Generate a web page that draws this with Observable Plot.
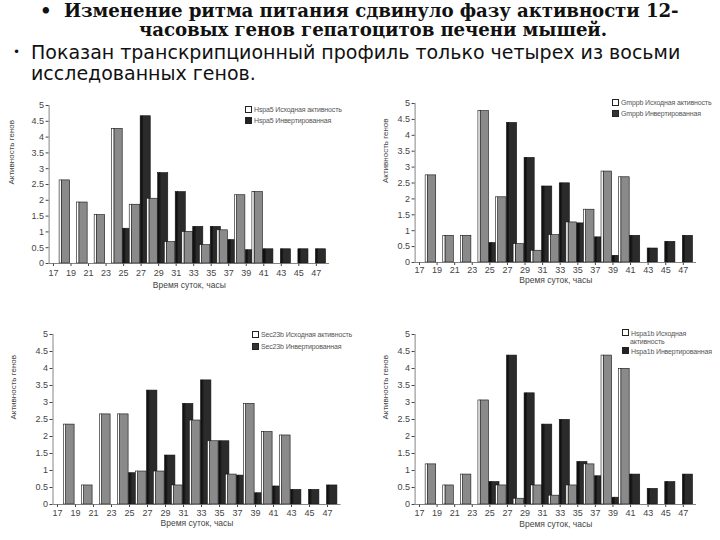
<!DOCTYPE html>
<html><head><meta charset="utf-8">
<script src="https://cdn.jsdelivr.net/npm/d3@7"></script>
<script src="https://cdn.jsdelivr.net/npm/@observablehq/plot@0.6"></script>
<style>
body{margin:0;background:#fff;width:720px;height:540px;position:relative;overflow:hidden;font-family:"Liberation Sans",Arial,sans-serif}
.abs{position:absolute;white-space:nowrap}
.h1{font-family:"DejaVu Serif",serif;font-weight:bold;font-size:18.2px;line-height:18px;color:#111;letter-spacing:-0.1px}
.h2{font-family:"DejaVu Sans",sans-serif;font-size:19px;line-height:21px;color:#111}
.leg{font-size:7px;color:#555;line-height:11px;letter-spacing:-0.15px}
.sq{display:inline-block;width:5px;height:5px;border:1px solid #222;margin-right:2px;vertical-align:-0.5px}
</style></head><body>
<div class="abs h1" style="left:40px;top:2px">•&nbsp; Изменение ритма питания сдвинуло фазу активности 12-</div>
<div class="abs h1" style="left:373px;top:21px;transform:translateX(-50%)">часовых генов гепатоцитов печени мышей.</div>
<div class="abs h2" style="left:13px;top:42px;font-size:12px">•</div>
<div class="abs h2" style="left:31px;top:42px">Показан транскрипционный профиль только четырех из восьми</div>
<div class="abs h2" style="left:31px;top:63px">исследованных генов.</div>
<div id="charts"></div>
<script>
// ---- data ----
const hoursOrig = [18, 20, 22, 24, 26, 28, 30, 32, 34, 36, 38, 40, 42];
const hoursInv = [25, 27, 29, 31, 33, 35, 37, 39, 41, 43, 45, 47];
const xTicks = [17, 19, 21, 23, 25, 27, 29, 31, 33, 35, 37, 39, 41, 43, 45, 47];
const yTicks = [0, 0.5, 1, 1.5, 2, 2.5, 3, 3.5, 4, 4.5, 5];
const genes = ["Hspa5", "Gmppb", "Sec23b", "Hspa1b"];
const seriesNames = ["Исходная активность", "Инвертированная"];
const xTitle = "Время суток, часы";
const yTitle = "Активность генов";

const orig1 = [2.63, 1.93, 1.53, 4.26, 1.86, 2.05, 0.68, 1.0, 0.58, 1.05, 2.16, 2.26];
const inv1  = [1.1, 4.66, 2.86, 2.26, 1.16, 1.16, 0.74, 0.42, 0.45, 0.45, 0.45, 0.45];
const orig2 = [2.74, 0.84, 0.84, 4.76, 2.05, 0.58, 0.37, 0.86, 1.26, 1.66, 2.86, 2.68];
const inv2  = [0.61, 4.39, 3.29, 2.39, 2.49, 1.23, 0.79, 0.21, 0.84, 0.44, 0.65, 0.84];
const orig3 = [2.35, 0.56, 2.65, 2.65, 0.97, 0.97, 0.56, 2.47, 1.86, 0.88, 2.96, 2.13, 2.03];
const inv3  = [0.92, 3.35, 1.44, 2.96, 3.65, 1.86, 0.85, 0.33, 0.53, 0.43, 0.43, 0.56];
const orig4 = [1.18, 0.56, 0.88, 3.06, 0.56, 0.17, 0.56, 0.26, 0.56, 1.18, 4.38, 3.99];
const inv4  = [0.66, 4.38, 3.27, 2.35, 2.49, 1.25, 0.83, 0.2, 0.88, 0.46, 0.66, 0.88];

const panels = [
  {gene: genes[0], orig: orig1, inv: inv1, left: 0, top: 95, width: 345, height: 200, ml: 48.6, mr: 16, mt: 10, mb: 32, ytx: -38, tickPad: 3, xtDy: 24,
   leg: {left: 245, top: 104, lh: 11, lines: [[0, "white"], [1, "#222"]]}},
  {gene: genes[1], orig: orig2, inv: inv2, left: 360, top: 93, width: 360, height: 200, ml: 54.6, mr: 24, mt: 10, mb: 31, ytx: -30, tickPad: 1, xtDy: 20,
   leg: {left: 612, top: 97, lh: 11, lines: [[0, "white"], [1, "#333"]]}},
  {gene: genes[2], orig: orig3, inv: inv3, left: 0, top: 320, width: 360, height: 220, ml: 52.5, mr: 19.5, mt: 14, mb: 36, ytx: -40, tickPad: 2, xtDy: 21,
   leg: {left: 252, top: 329, lh: 12, lines: [[0, "white"], [1, "#333"]]}},
  {gene: genes[3], orig: orig4, inv: inv4, left: 360, top: 320, width: 360, height: 220, ml: 54.6, mr: 24, mt: 14, mb: 36, ytx: -30, tickPad: 2, xtDy: 22,
   leg: {left: 622, top: 329, lh: 8.5, wrap: true, lines: [[0, "white"], [1, "#222"]]}}
];

const xDomain = [16.5, 48.5];
const container = document.getElementById("charts");

for (const p of panels) {
  const bars = [
    ...p.orig.map((v, i) => ({hour: hoursOrig[i], value: v, s: 0})),
    ...p.inv.map((v, i) => ({hour: hoursInv[i], value: v, s: 1}))
  ].sort((a, b) => a.hour - b.hour || a.s - b.s);
  const pieces = bars.flatMap(d => [{...d, part: "side"}, {...d, part: "front"}]);
  const x1 = d => d.s === 0 ? (d.part === "front" ? d.hour - 0.3 : d.hour - 0.05) : (d.part === "front" ? d.hour - 0.05 : d.hour + 0.2);
  const x2 = d => d.s === 0 ? (d.part === "front" ? d.hour - 0.05 : d.hour + 0.9) : (d.part === "front" ? d.hour + 0.2 : d.hour + 1.1);
  const fill = d => d.s === 0 ? (d.part === "front" ? "#ffffff" : "#8a8a8a") : (d.part === "front" ? "#111" : "#2b2b2b");

  const chart = Plot.plot({
    width: p.width, height: p.height,
    marginLeft: p.ml, marginRight: p.mr, marginTop: p.mt, marginBottom: p.mb,
    style: {fontFamily: "Liberation Sans, Arial, sans-serif", fontSize: "9px", color: "#444", background: "transparent"},
    x: {domain: xDomain, ticks: xTicks, tickFormat: d => String(d), tickSize: 3, tickPadding: p.tickPad, label: null},
    y: {domain: [0, 5], ticks: yTicks, tickFormat: d => String(d), tickSize: 3, tickPadding: 2, label: null},
    marks: [
      Plot.rectY(pieces, {x1, x2, y1: 0, y2: "value", fill, stroke: "#111", strokeWidth: 0.6}),
      Plot.ruleY([0], {stroke: "#666", strokeWidth: 0.8}),
      Plot.ruleX([xDomain[0]], {stroke: "#666", strokeWidth: 0.8}),
      Plot.text([xTitle], {text: d => d, frameAnchor: "bottom", dy: p.xtDy, fontSize: 8.5, fill: "#444"}),
      Plot.text([yTitle], {text: d => d, frameAnchor: "left", dx: p.ytx, rotate: -90, fontSize: 8, fill: "#444"})
    ]
  });
  chart.style.position = "absolute";
  chart.style.left = p.left + "px";
  chart.style.top = p.top + "px";
  container.appendChild(chart);

  const leg = document.createElement("div");
  leg.className = "abs leg";
  leg.style.left = p.leg.left + "px";
  leg.style.top = p.leg.top + "px";
  leg.style.lineHeight = p.leg.lh + "px";
  leg.innerHTML = p.leg.lines.map(([s, c]) => {
    let label = p.gene + " " + seriesNames[s];
    if (p.leg.wrap && s === 0) label = p.gene + " Исходная<br><span style='padding-left:8px'>активность</span>";
    return `<div><span class="sq" style="background:${c}"></span>${label}</div>`;
  }).join("");
  container.appendChild(leg);
}
</script>
</body></html>
